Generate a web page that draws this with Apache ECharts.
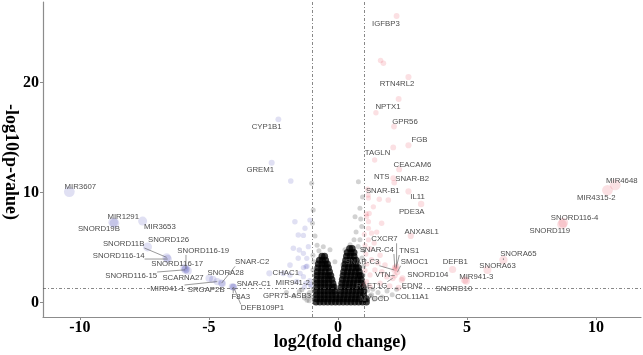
<!DOCTYPE html>
<html><head><meta charset="utf-8">
<script src="https://cdn.jsdelivr.net/npm/echarts@6/dist/echarts.min.js"></script>
<style>html,body{margin:0;padding:0;background:#fff}#c{width:643px;height:355px}</style>
</head><body><div id="c"></div>
<script>
const xTicks = [-10, -5, 0, 5, 10];
const yTicks = [0, 10, 20];
const fcCut = [-1, 1];
const pCut = 1.301;
const xTitle = 'log2(fold change)';
const yTitle = '-log10(p-value)';

// [log2FC, -log10(p), label]
const downGenes = [
  [-10.41, 10.07, 'MIR3607'], [-8.71, 7.29, 'MIR1291'], [-8.66, 7.2, 'SNORD19B'],
  [-7.57, 7.4, 'MIR3653'], [-7.38, 5.05, 'SNORD126'], [-6.64, 4.1, 'SNORD11B'],
  [-6.6, 3.95, 'SNORD116-14'], [-5.89, 3.05, 'SNORD116-19'], [-5.95, 3.15, 'SNORD116-17'],
  [-5.92, 2.97, 'SNORD116-15'], [-5.82, 2.88, 'SCARNA27'], [-4.99, 2.2, 'SNORA28'],
  [-4.51, 1.76, 'SNAR-C2'], [-4.68, 1.9, 'MIR941-1'], [-4.48, 1.72, 'SRGAP2B'],
  [-4.1, 1.44, 'SNAR-C1'], [-4.06, 1.4, 'F8A3'], [-4.04, 1.38, 'DEFB109P1'],
  [-2.66, 2.65, 'CHAC1'], [-1.08, 1.65, 'MIR941-2'], [-2.31, 16.65, 'CYP1B1'],
  [-2.57, 12.7, 'GREM1'],
  [-4.85, 2.1, ''], [-1.83, 11.05, ''], [-1.67, 7.35, ''], [-1.09, 7.5, ''], [-1.28, 6.75, ''],
  [-1.54, 6.14, ''], [-1.34, 6.1, ''], [-1.73, 4.93, ''], [-1.5, 4.77, ''], [-1.15, 5.07, ''],
  [-1.34, 4.47, ''], [-1.54, 4.02, ''], [-1.21, 4.02, ''], [-1.24, 3.25, ''], [-1.2, 3.3, ''],
  [-1.34, 3.17, ''], [-2.12, 2.65, ''], [-1.86, 2.5, ''], [-1.34, 2.35, ''], [-1.6, 1.9, ''],
  [-1.1, 2.0, ''], [-1.05, 1.5, ''], [-1.3, 1.4, ''], [-1.86, 3.4, ''], [-1.47, 2.65, ''],
  [-1.25, 1.76, '']
];

const upGenes = [
  [2.27, 26.05, 'IGFBP3'], [2.73, 20.5, 'RTN4RL2'], [2.35, 18.5, 'NPTX1'], [2.17, 16.0, 'GPR56'],
  [2.73, 14.3, 'FGB'], [1.42, 12.95, 'TAGLN'], [2.37, 12.1, 'CEACAM6'], [2.14, 11.3, 'NTS'],
  [2.18, 10.9, 'SNAR-B2'], [1.17, 9.77, 'SNAR-B1'], [2.73, 10.1, 'IL11'], [3.22, 8.95, 'PDE3A'],
  [2.82, 6.05, 'ANXA8L1'], [10.74, 10.7, 'MIR4648'], [10.44, 10.2, 'MIR4315-2'],
  [8.73, 7.25, 'SNORD116-4'], [8.68, 7.1, 'SNORD119'], [6.41, 3.86, 'SNORA65'],
  [5.79, 2.95, 'SNORA63'], [4.44, 3.0, 'DEFB1'], [4.91, 2.05, 'MIR941-3'], [4.97, 1.95, 'SNORD10'],
  [2.5, 2.2, 'SNORD104'], [2.27, 3.3, 'CXCR7'], [2.2, 3.2, 'SNAR-C4'], [2.25, 3.1, 'TNS1'],
  [2.18, 2.95, 'SNAR-C3'], [2.3, 2.75, 'SMOC1'], [2.2, 2.45, 'VTN'], [2.12, 2.2, 'RAET1G'],
  [2.35, 1.35, 'EDN2'],
  [1.65, 22.0, ''], [1.76, 21.75, ''], [1.47, 17.25, ''], [2.14, 14.1, ''], [1.18, 9.5, ''],
  [1.95, 9.32, ''], [1.6, 9.38, ''], [1.21, 8.1, ''], [1.09, 8.05, ''], [1.37, 8.7, ''],
  [1.69, 7.2, ''], [1.18, 6.75, ''], [1.3, 6.3, ''], [1.5, 6.4, ''], [1.18, 5.7, ''],
  [1.24, 4.9, ''], [1.63, 4.3, ''], [1.3, 3.9, ''], [1.82, 3.4, ''], [1.43, 2.95, ''],
  [1.24, 2.5, ''], [1.89, 2.35, ''], [1.11, 1.9, ''], [1.63, 1.75, ''], [2.47, 2.05, ''],
  [1.24, 1.44, ''], [1.11, 7.8, ''], [1.18, 7.35, ''], [1.05, 5.2, ''], [1.08, 4.4, ''],
  [1.12, 3.5, ''], [1.05, 2.9, ''], [1.4, 5.4, ''], [1.55, 3.6, ''], [1.02, 1.6, ''],
  [1.7, 2.8, ''], [2.0, 1.5, ''], [1.15, 10.3, ''], [1.02, 6.2, '']
];

const nsGenes = [
  [2.27, 1.2, 'COL11A1'], [1.3, 0.7, 'MYOCD'], [-1.2, 0.68, 'GPR75-ASB3'],
  [-1.02, 10.84, ''], [-0.96, 8.41, ''], [-0.99, 7.2, ''], [-0.89, 6.05, ''], [-0.81, 5.2, ''],
  [-0.57, 5.07, ''], [-0.74, 4.7, ''], [-0.97, 4.3, ''], [-0.93, 3.7, ''], [-0.97, 2.95, ''],
  [-0.89, 2.5, ''], [-0.93, 1.86, ''], [-0.95, 1.2, ''], [-0.9, 0.6, ''],
  [0.79, 10.98, ''], [0.85, 8.56, ''], [0.66, 7.8, ''], [0.92, 6.9, ''], [0.7, 6.4, ''],
  [0.85, 5.7, ''], [0.98, 4.77, ''], [0.78, 5.1, ''], [0.93, 4.05, ''], [0.99, 3.3, ''],
  [0.97, 2.5, ''], [0.99, 1.8, ''], [0.62, 5.7, ''], [0.47, 5.25, ''], [0.27, 4.8, ''],
  [-0.31, 4.8, ''], [-0.12, 3.7, ''], [0.19, 3.4, ''], [0.95, 9.6, ''], [0.88, 7.6, ''],
  [-1.1, 0.9, ''], [-1.3, 0.4, ''], [-1.5, 1.0, ''], [-1.2, 0.2, ''], [-1.7, 0.6, ''],
  [-2.0, 0.9, ''], [1.15, 1.1, ''], [1.25, 0.6, ''], [1.4, 0.3, ''], [1.55, 0.9, ''],
  [1.7, 0.5, ''], [1.9, 1.05, ''], [2.1, 0.7, ''], [1.35, 1.2, ''], [-1.05, 0.5, ''],
  [-1.4, 1.15, ''], [1.12, 0.2, ''], [-1.12, 0.15, '']
];

// dense non-significant core
const nsCore = [
  [-0.85,0.05],[-0.7,0.05],[-0.55,0.05],[-0.4,0.05],[-0.25,0.05],[-0.1,0.05],[0.05,0.05],[0.2,0.05],[0.35,0.05],[0.5,0.05],[0.65,0.05],[0.8,0.05],[0.95,0.05],[1.1,0.05],
  [-0.83,0.35],[-0.68,0.35],[-0.53,0.35],[-0.38,0.35],[-0.23,0.35],[-0.08,0.35],[0.07,0.35],[0.22,0.35],[0.37,0.35],[0.52,0.35],[0.67,0.35],[0.82,0.35],[0.97,0.35],[1.09,0.35],
  [-0.83,0.7],[-0.68,0.7],[-0.53,0.7],[-0.38,0.7],[-0.23,0.7],[-0.09,0.7],[0.09,0.7],[0.24,0.7],[0.39,0.7],[0.54,0.7],[0.69,0.7],[0.84,0.7],[0.99,0.7],
  [-0.83,1.05],[-0.68,1.05],[-0.53,1.05],[-0.38,1.05],[-0.24,1.05],[-0.12,1.05],[0.11,1.05],[0.26,1.05],[0.41,1.05],[0.56,1.05],[0.71,1.05],[0.86,1.05],[1.0,1.05],
  [-0.82,1.4],[-0.67,1.4],[-0.52,1.4],[-0.37,1.4],[-0.22,1.4],[-0.15,1.4],[0.13,1.4],[0.28,1.4],[0.43,1.4],[0.58,1.4],[0.73,1.4],[0.88,1.4],[0.97,1.4],
  [-0.82,1.75],[-0.67,1.75],[-0.52,1.75],[-0.37,1.75],[-0.2,1.75],[0.15,1.75],[0.3,1.75],[0.45,1.75],[0.6,1.75],[0.75,1.75],[0.9,1.75],
  [-0.82,2.1],[-0.67,2.1],[-0.52,2.1],[-0.37,2.1],[-0.24,2.1],[0.17,2.1],[0.32,2.1],[0.47,2.1],[0.62,2.1],[0.77,2.1],[0.9,2.1],
  [-0.81,2.45],[-0.66,2.45],[-0.51,2.45],[-0.38,2.45],[-0.28,2.45],[0.2,2.45],[0.35,2.45],[0.5,2.45],[0.65,2.45],[0.8,2.45],[0.87,2.45],
  [-0.8,2.8],[-0.65,2.8],[-0.5,2.8],[-0.33,2.8],[0.22,2.8],[0.37,2.8],[0.52,2.8],[0.67,2.8],[0.82,2.8],
  [-0.78,3.15],[-0.63,3.15],[-0.48,3.15],[-0.37,3.15],[0.25,3.15],[0.4,3.15],[0.55,3.15],[0.7,3.15],[0.79,3.15],
  [-0.76,3.5],[-0.62,3.5],[-0.5,3.5],[-0.41,3.5],[0.27,3.5],[0.42,3.5],[0.57,3.5],[0.7,3.5],
  [-0.72,3.85],[-0.6,3.85],[-0.48,3.85],[0.3,3.85],[0.45,3.85],[0.6,3.85],[0.7,3.85],
  [-0.62,4.2],[-0.52,4.2],[0.33,4.2],[0.47,4.2],[0.62,4.2],
  [0.36,4.55],[0.5,4.55],[0.62,4.55],
  [0.45,4.9],[0.55,4.9]
];

// label placement (pixel offsets from the point, draw segment flag)
const labelOffsets = {
  'MIR3607':[11,-5,0],'MIR1291':[10,-5,0],'SNORD19B':[-15.6,6,0],'MIR3653':[17.3,6.2,0],
  'SNORD126':[21,-7,0],'SNORD11B':[-43,-13.4,1],'SNORD116-14':[-49,-3,1],'SNORD116-19':[17.3,-18,1],
  'SNORD116-17':[-7.3,-3.8,0],'SNORD116-15':[-54,6.2,1],'SCARNA27':[-4.8,7.2,0],'SNORA28':[16.5,-5,0],
  'SNAR-C2':[30.6,-20.8,1],'MIR941-1':[-49.8,7.4,1],'SRGAP2B':[-16.2,6.4,0],'SNAR-C1':[21.6,-2.7,0],
  'F8A3':[7.5,10.2,1],'DEFB109P1':[28.7,21,1],'CHAC1':[16.4,-0.6,0],'MIR941-2':[-17.4,-1.1,1],
  'GPR75-ASB3':[-20,1,0],'CYP1B1':[-11.7,7.9,0],'GREM1':[-11.4,7.2,0],
  'IGFBP3':[-10.6,8.1,0],'RTN4RL2':[-11.4,7,0],'NPTX1':[-10.6,8.3,0],'GPR56':[11,-4.2,0],
  'FGB':[11.1,-5.2,0],'TAGLN':[2.9,-6.7,0],'CEACAM6':[13.2,-4.4,0],'NTS':[-11.5,-1.5,0],
  'SNAR-B2':[18,-3.3,0],'SNAR-B1':[14.6,-4.3,0],'IL11':[9.1,5.9,0],'PDE3A':[-9.4,7.6,0],
  'ANXA8L1':[10.9,-4.3,0],'MIR4648':[6.6,-4.1,0],'MIR4315-2':[-11.1,7.4,0],'SNORD116-4':[11.3,-5,0],
  'SNORD119':[-12.2,6.6,0],'SNORA65':[14.9,-5.7,1],'SNORA63':[10.1,-4,0],'DEFB1':[2.7,-7.2,0],
  'MIR941-3':[11.6,-2.7,0],'SNORD10':[-12.4,7.9,0],'SNORD104':[25.3,-3.3,0],'CXCR7':[-12.1,-26.9,1],
  'SNAR-C4':[-18,-17.3,1],'TNS1':[13.2,-17.4,1],'SNAR-C3':[-32,-8.3,1],'SMOC1':[17.2,-10.5,1],
  'VTN':[-12.1,-0.5,1],'RAET1G':[-21,7.4,1],'EDN2':[13.6,-1.9,0],'COL11A1':[15.4,8,0],'MYOCD':[3,4.5,0]
};

const labelFont = '7.8px "Liberation Sans", Arial, sans-serif';
const titleFont = 'bold 18px "Liberation Serif", serif';
const mctx = document.createElement('canvas').getContext('2d');
mctx.font = labelFont;
const labelled = [...nsGenes, ...downGenes, ...upGenes].filter(d => d[2]);
const sizeOf = v => 4.5 + 0.6 * Math.abs(v[0]);

const chart = echarts.init(document.getElementById('c'), null, {renderer: 'canvas'});
const axisGrey = '#8c8c8c';
chart.setOption({
  animation: false,
  backgroundColor: '#fff',
  grid: {left: 43, right: 2, top: 2, bottom: 38, containLabel: false, outerBoundsMode: 'none'},
  graphic: [
    {type: 'text', x: 340, y: 342, style: {text: xTitle, font: titleFont, fill: '#000', align: 'center', verticalAlign: 'middle'}},
    {type: 'text', x: 11, y: 162, rotation: -Math.PI / 2, style: {text: yTitle, font: titleFont, fill: '#000', align: 'center', verticalAlign: 'middle'}}
  ],
  xAxis: {
    type: 'value', min: -11.43, max: 11.74,
    axisLine: {show: true, onZero: false, lineStyle: {color: axisGrey, width: 1.2}},
    axisTick: {show: true, length: 3, customValues: xTicks, lineStyle: {color: axisGrey}},
    axisLabel: {customValues: xTicks, margin: 3, fontFamily: '"Liberation Serif", serif', fontWeight: 'bold', fontSize: 16, color: '#000'},
    splitLine: {show: false}
  },
  yAxis: {
    type: 'value', min: -1.32, max: 27.32,
    axisLine: {show: true, onZero: false, lineStyle: {color: axisGrey, width: 1.2}},
    axisTick: {show: true, length: 3, customValues: yTicks, lineStyle: {color: axisGrey}},
    axisLabel: {customValues: yTicks, margin: 4, fontFamily: '"Liberation Serif", serif', fontWeight: 'bold', fontSize: 16, color: '#000'},
    splitLine: {show: false}
  },
  series: [
    {
      type: 'scatter', name: 'ns', data: nsGenes.map(d => [d[0], d[1]]),
      symbolSize: 5, itemStyle: {color: 'rgba(0,0,0,0.22)'}, z: 2,
      markLine: {
        silent: true, symbol: ['none', 'none'], label: {show: false},
        lineStyle: {type: [3, 2, 1, 2], color: '#555', width: 0.7},
        data: [{xAxis: fcCut[0]}, {xAxis: fcCut[1]}, {yAxis: pCut}]
      }
    },
    {
      type: 'scatter', name: 'core', data: nsCore,
      symbolSize: 7, itemStyle: {color: 'rgba(0,0,0,0.92)'}, z: 2
    },
    {
      type: 'scatter', name: 'down', data: downGenes.map(d => [d[0], d[1]]),
      symbolSize: sizeOf, itemStyle: {color: 'rgba(40,40,170,0.18)'}, z: 3
    },
    {
      type: 'scatter', name: 'up', data: upGenes.map(d => [d[0], d[1]]),
      symbolSize: sizeOf, itemStyle: {color: 'rgba(230,40,60,0.18)'}, z: 3
    },
    {
      type: 'custom', name: 'labels', z: 5, clip: false,
      data: labelled.map(d => [d[0], d[1]]),
      renderItem: (params, api) => {
        const name = labelled[params.dataIndex][2];
        const off = labelOffsets[name] || [0, -8, 0];
        const p = api.coord([api.value(0), api.value(1)]);
        const lx = p[0] + off[0], ly = p[1] + off[1];
        const w = mctx.measureText(name).width;
        const children = [];
        if (off[2]) {
          const qx = Math.min(Math.max(p[0], lx - w / 2), lx + w / 2);
          const qy = Math.min(Math.max(p[1], ly - 4), ly + 4);
          children.push({type: 'line', shape: {x1: p[0], y1: p[1], x2: qx, y2: qy},
            style: {stroke: '#555', lineWidth: 0.6}});
        }
        children.push({type: 'text', style: {text: name, x: lx, y: ly, fill: '#4d4d4d',
          font: labelFont, align: 'center', verticalAlign: 'middle'}});
        return {type: 'group', children};
      }
    }
  ]
});
</script></body></html>
